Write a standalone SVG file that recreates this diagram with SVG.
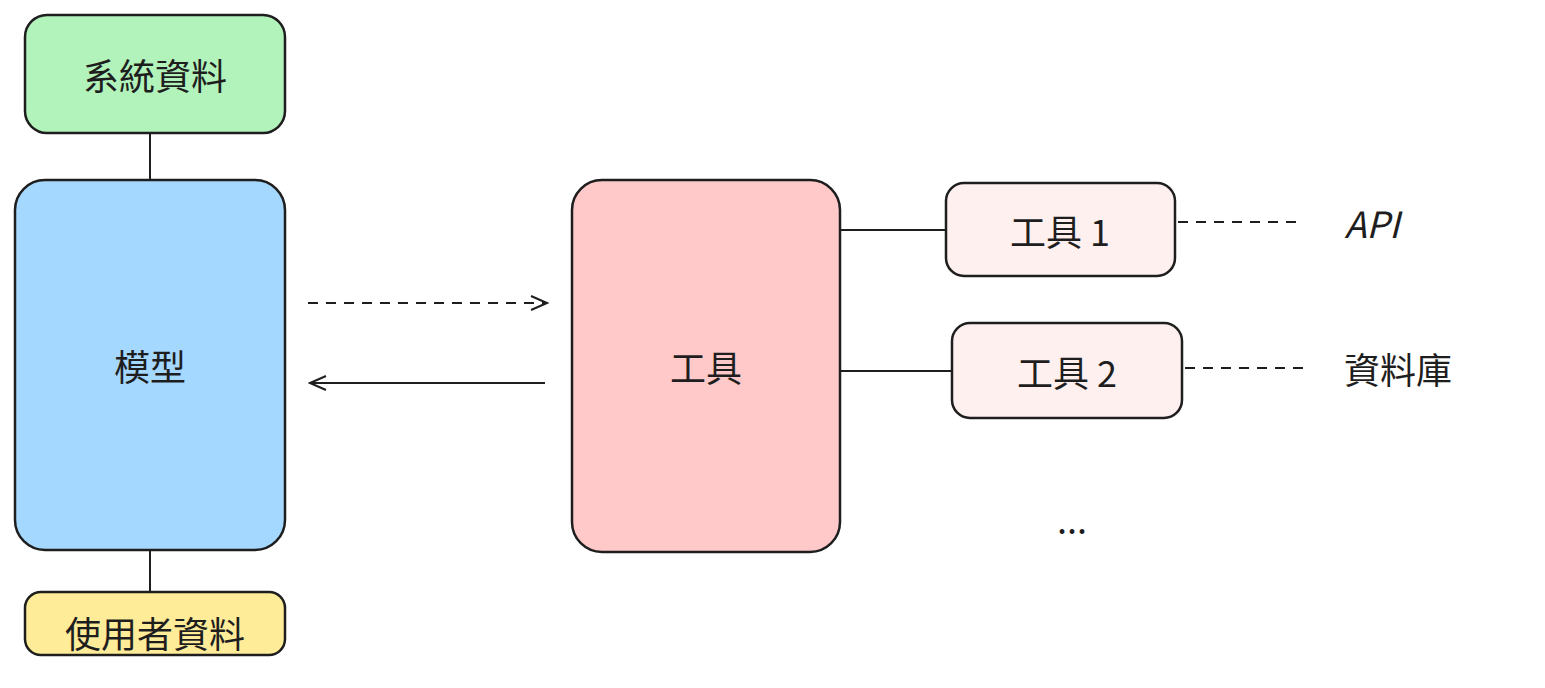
<svg xmlns="http://www.w3.org/2000/svg" width="1545" height="688" viewBox="0 0 1545 688">
<style>
.b{stroke:#1e1e1e;stroke-width:2.5}
.t{font-family:"Noto Sans CJK TC","Noto Sans",sans-serif;font-size:36px;fill:#1e1e1e;text-anchor:middle;dominant-baseline:central}
.l{stroke:#1e1e1e;stroke-width:2;fill:none}
.d{stroke:#1e1e1e;stroke-width:2;fill:none;stroke-dasharray:10 8}
</style>
<defs>
<marker id="ah" markerWidth="20" markerHeight="20" refX="18" refY="10" orient="auto" markerUnits="userSpaceOnUse">
<path d="M2 3 L18 10 L2 17" fill="none" stroke="#1e1e1e" stroke-width="2"/>
</marker>
</defs>
<rect width="1545" height="688" fill="#ffffff"/>
<g id="connectors">
<line class="l" x1="150" y1="133" x2="150" y2="180"/>
<line class="l" x1="150" y1="550" x2="150" y2="592"/>
<line class="d" x1="308" y1="303" x2="547" y2="303" marker-end="url(#ah)"/>
<line class="l" x1="545" y1="383" x2="310" y2="383" marker-end="url(#ah)"/>
<line class="l" x1="840" y1="230" x2="946" y2="230"/>
<line class="l" x1="840" y1="371" x2="952" y2="371"/>
<line class="d" x1="1178" y1="222" x2="1300" y2="222"/>
<line class="d" x1="1185" y1="368" x2="1305" y2="368"/>
</g>
<g id="sys"><rect class="b" x="25" y="15" width="260" height="118" rx="22" fill="#b2f2bb"/><text class="t" x="155" y="74">系統資料</text></g>
<g id="model"><rect class="b" x="15" y="180" width="270" height="370" rx="30" fill="#a5d8ff"/><text class="t" x="150" y="365">模型</text></g>
<g id="user"><rect class="b" x="25" y="592" width="260" height="63" rx="16" fill="#ffec99"/><text class="t" x="155" y="632">使用者資料</text></g>
<g id="tools"><rect class="b" x="572" y="180" width="268" height="372" rx="30" fill="#ffc9c9"/><text class="t" x="706" y="366">工具</text></g>
<g id="tool1"><rect class="b" x="946" y="183" width="229" height="93" rx="18" fill="#fff0f0"/><text class="t" x="1060" y="230">工具 1</text></g>
<g id="tool2"><rect class="b" x="952" y="323" width="230" height="95" rx="18" fill="#fff0f0"/><text class="t" x="1067" y="371">工具 2</text></g>
<g id="api"><text class="t" x="1372" y="222" font-style="italic">API</text></g>
<g id="db"><text class="t" x="1398" y="368">資料庫</text></g>
<g id="more"><text class="t" x="1072" y="518">...</text></g>
</svg>
